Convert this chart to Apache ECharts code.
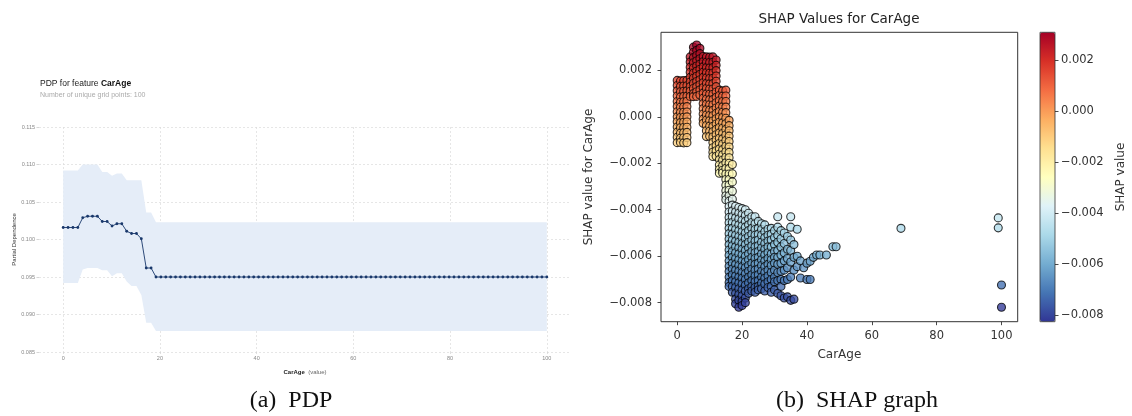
<!DOCTYPE html>
<html>
<head>
<meta charset="utf-8">
<script src="https://cdn.jsdelivr.net/npm/echarts@6/dist/echarts.min.js"></script>
<style>
  html, body { margin: 0; padding: 0; background: #fff; }
  #chart { width: 1132px; height: 416px; }
</style>
</head>
<body>
<div id="chart"></div>
<script>
// ---- Partial dependence of CarAge (100 equally spaced grid points) ----
const pdpGrid = [
  0, 1.01, 2.02, 3.03, 4.04, 5.05, 6.06, 7.07, 8.08, 9.09,
  10.1, 11.11, 12.12, 13.13, 14.14, 15.15, 16.16, 17.17, 18.18, 19.19,
  20.2, 21.21, 22.22, 23.23, 24.24, 25.25, 26.26, 27.27, 28.28, 29.29,
  30.3, 31.31, 32.32, 33.33, 34.34, 35.35, 36.36, 37.37, 38.38, 39.39,
  40.4, 41.41, 42.42, 43.43, 44.44, 45.45, 46.46, 47.47, 48.48, 49.49,
  50.51, 51.52, 52.53, 53.54, 54.55, 55.56, 56.57, 57.58, 58.59, 59.6,
  60.61, 61.62, 62.63, 63.64, 64.65, 65.66, 66.67, 67.68, 68.69, 69.7,
  70.71, 71.72, 72.73, 73.74, 74.75, 75.76, 76.77, 77.78, 78.79, 79.8,
  80.81, 81.82, 82.83, 83.84, 84.85, 85.86, 86.87, 87.88, 88.89, 89.9,
  90.91, 91.92, 92.93, 93.94, 94.95, 95.96, 96.97, 97.98, 98.99, 100
];
const pdpMean = [
  0.1016, 0.1016, 0.1016, 0.1016, 0.1029, 0.1031, 0.1031, 0.1031, 0.1024, 0.1024,
  0.1018, 0.1021, 0.1021, 0.1011, 0.1008, 0.1008, 0.1001, 0.0962, 0.0962, 0.095,
  0.095, 0.095, 0.095, 0.095, 0.095, 0.095, 0.095, 0.095, 0.095, 0.095,
  0.095, 0.095, 0.095, 0.095, 0.095, 0.095, 0.095, 0.095, 0.095, 0.095,
  0.095, 0.095, 0.095, 0.095, 0.095, 0.095, 0.095, 0.095, 0.095, 0.095,
  0.095, 0.095, 0.095, 0.095, 0.095, 0.095, 0.095, 0.095, 0.095, 0.095,
  0.095, 0.095, 0.095, 0.095, 0.095, 0.095, 0.095, 0.095, 0.095, 0.095,
  0.095, 0.095, 0.095, 0.095, 0.095, 0.095, 0.095, 0.095, 0.095, 0.095,
  0.095, 0.095, 0.095, 0.095, 0.095, 0.095, 0.095, 0.095, 0.095, 0.095,
  0.095, 0.095, 0.095, 0.095, 0.095, 0.095, 0.095, 0.095, 0.095, 0.095
];
const pdpUpper = [
  0.1092, 0.1092, 0.1092, 0.1092, 0.11, 0.11, 0.11, 0.11, 0.109, 0.109,
  0.1085, 0.1088, 0.1088, 0.1079, 0.1079, 0.1079, 0.1079, 0.1036, 0.1036, 0.1023,
  0.1023, 0.1023, 0.1023, 0.1023, 0.1023, 0.1023, 0.1023, 0.1023, 0.1023, 0.1023,
  0.1023, 0.1023, 0.1023, 0.1023, 0.1023, 0.1023, 0.1023, 0.1023, 0.1023, 0.1023,
  0.1023, 0.1023, 0.1023, 0.1023, 0.1023, 0.1023, 0.1023, 0.1023, 0.1023, 0.1023,
  0.1023, 0.1023, 0.1023, 0.1023, 0.1023, 0.1023, 0.1023, 0.1023, 0.1023, 0.1023,
  0.1023, 0.1023, 0.1023, 0.1023, 0.1023, 0.1023, 0.1023, 0.1023, 0.1023, 0.1023,
  0.1023, 0.1023, 0.1023, 0.1023, 0.1023, 0.1023, 0.1023, 0.1023, 0.1023, 0.1023,
  0.1023, 0.1023, 0.1023, 0.1023, 0.1023, 0.1023, 0.1023, 0.1023, 0.1023, 0.1023,
  0.1023, 0.1023, 0.1023, 0.1023, 0.1023, 0.1023, 0.1023, 0.1023, 0.1023, 0.1023
];
const pdpLower = [
  0.0942, 0.0942, 0.0942, 0.0942, 0.096, 0.0962, 0.0962, 0.0962, 0.0959, 0.0959,
  0.0951, 0.0955, 0.0955, 0.0944, 0.0938, 0.0938, 0.0926, 0.0889, 0.0889, 0.0878,
  0.0878, 0.0878, 0.0878, 0.0878, 0.0878, 0.0878, 0.0878, 0.0878, 0.0878, 0.0878,
  0.0878, 0.0878, 0.0878, 0.0878, 0.0878, 0.0878, 0.0878, 0.0878, 0.0878, 0.0878,
  0.0878, 0.0878, 0.0878, 0.0878, 0.0878, 0.0878, 0.0878, 0.0878, 0.0878, 0.0878,
  0.0878, 0.0878, 0.0878, 0.0878, 0.0878, 0.0878, 0.0878, 0.0878, 0.0878, 0.0878,
  0.0878, 0.0878, 0.0878, 0.0878, 0.0878, 0.0878, 0.0878, 0.0878, 0.0878, 0.0878,
  0.0878, 0.0878, 0.0878, 0.0878, 0.0878, 0.0878, 0.0878, 0.0878, 0.0878, 0.0878,
  0.0878, 0.0878, 0.0878, 0.0878, 0.0878, 0.0878, 0.0878, 0.0878, 0.0878, 0.0878,
  0.0878, 0.0878, 0.0878, 0.0878, 0.0878, 0.0878, 0.0878, 0.0878, 0.0878, 0.0878
];
const pdpXTicks = [0, 20, 40, 60, 80, 100];

// ---- SHAP values per CarAge, in units of 1e-3 ----
const shapColumns = [
  [0, [1.57, 1.35, 1.12, 0.9, 0.66, 0.45, 0.22, 0.0, -0.21, -0.44, -0.66, -0.88, -1.11]],
  [1, [1.55, 1.31, 1.08, 0.86, 0.63, 0.41, 0.19, -0.03, -0.25, -0.47, -0.7, -0.92, -1.1]],
  [2, [1.56, 1.33, 1.1, 0.88, 0.65, 0.43, 0.2, -0.02, -0.23, -0.46, -0.68, -0.9, -1.12]],
  [3, [1.57, 1.34, 1.12, 0.89, 0.67, 0.44, 0.21, 0.0, -0.22, -0.45, -0.67, -0.89, -1.11]],
  [4, [2.58, 2.36, 2.14, 1.92, 1.7, 1.5, 1.3, 1.1, 0.88]],
  [5, [3.0, 2.78, 2.55, 2.33, 2.1, 1.88, 1.66, 1.44, 1.22, 1.0, 0.87]],
  [6, [3.09, 2.86, 2.64, 2.41, 2.19, 1.97, 1.75, 1.52, 1.3, 1.08, 0.88]],
  [7, [2.95, 2.72, 2.5, 2.27, 2.05, 1.83, 1.6, 1.38, 1.16, 0.94]],
  [8, [2.6, 2.37, 2.15, 1.92, 1.7, 1.47, 1.25, 1.02, 0.8, 0.57, 0.35, 0.12, -0.1, -0.28]],
  [9, [2.58, 2.35, 2.12, 1.9, 1.67, 1.44, 1.22, 0.99, 0.76, 0.54, 0.31, 0.08, -0.14, -0.37, -0.6, -0.85]],
  [10, [2.57, 2.34, 2.1, 1.88, 1.65, 1.42, 1.2, 0.97, 0.74, 0.52, 0.29, 0.06, -0.17, -0.4, -0.62, -0.84]],
  [11, [2.58, 2.35, 2.12, 1.89, 1.66, 1.43, 1.2, 0.97, 0.74, 0.51, 0.28, 0.05, -0.18, -0.41, -0.64, -0.87, -1.1, -1.33, -1.52, -1.71]],
  [12, [2.45, 2.22, 1.99, 1.76, 1.53, 1.3, 1.07, 0.84, 0.61, 0.38, 0.15, -0.08, -0.31, -0.54, -0.77, -1.0, -1.23, -1.46, -1.7]],
  [13, [1.15, 0.92, 0.69, 0.46, 0.23, 0.0, -0.23, -0.46, -0.69, -0.92, -1.15, -1.38, -1.61, -1.84, -2.07, -2.27, -2.43]],
  [14, [1.12, 0.89, 0.66, 0.43, 0.2, -0.03, -0.26, -0.49, -0.72, -0.95, -1.18, -1.41, -1.64, -1.87, -2.1, -2.3, -2.42]],
  [15, [1.15, 0.9, 0.66, 0.42, 0.18, -0.06, -0.3, -0.54, -0.78, -1.02, -1.26, -1.5, -1.74, -1.98, -2.22, -2.46, -2.7, -2.94, -3.18, -3.4, -3.57]],
  [16, [-0.15, -0.38, -0.6, -0.83, -1.06, -1.3, -1.53, -1.76, -2.0, -2.23, -2.46, -2.7, -2.93, -3.16, -3.4, -3.63, -3.86, -4.1, -4.33, -4.56, -4.8, -5.03, -5.26, -5.5, -5.73, -5.96, -6.2, -6.43, -6.66, -6.9, -7.13, -7.3]],
  [17, [-2.05, -2.45, -2.8, -3.2, -3.55, -3.8, -4.05, -4.3, -4.55, -4.8, -5.05, -5.3, -5.55, -5.8, -6.05, -6.3, -6.55, -6.8, -7.05, -7.3, -7.55]],
  [18, [-3.85, -4.1, -4.35, -4.6, -4.85, -5.1, -5.35, -5.6, -5.85, -6.1, -6.35, -6.6, -6.85, -7.1, -7.35, -7.6, -7.85, -8.05]],
  [19, [-3.9, -4.15, -4.4, -4.65, -4.9, -5.15, -5.4, -5.65, -5.9, -6.15, -6.4, -6.65, -6.9, -7.15, -7.4, -7.65, -7.9, -8.2]],
  [20, [-3.95, -4.2, -4.45, -4.7, -4.95, -5.2, -5.45, -5.7, -5.95, -6.2, -6.45, -6.7, -6.95, -7.2, -7.45, -7.7, -7.95, -8.12]],
  [21, [-4.0, -4.25, -4.5, -4.75, -5.0, -5.25, -5.5, -5.75, -6.0, -6.25, -6.5, -6.75, -7.0, -7.25, -7.5, -7.8, -8.0]],
  [22, [-4.15, -4.4, -4.65, -4.9, -5.15, -5.4, -5.65, -5.9, -6.15, -6.4, -6.65, -6.9, -7.15, -7.4, -7.6]],
  [23, [-4.3, -4.55, -4.8, -5.05, -5.3, -5.55, -5.8, -6.05, -6.3, -6.55, -6.8, -7.05, -7.3, -7.5]],
  [24, [-4.3, -4.6, -4.85, -5.1, -5.35, -5.6, -5.85, -6.1, -6.35, -6.6, -6.85, -7.1, -7.35, -7.55]],
  [25, [-4.5, -4.8, -5.05, -5.3, -5.55, -5.8, -6.05, -6.3, -6.55, -6.8, -7.05, -7.3, -7.45]],
  [26, [-4.6, -4.85, -5.1, -5.4, -5.65, -5.9, -6.15, -6.4, -6.65, -6.9, -7.15, -7.4]],
  [27, [-4.65, -4.95, -5.2, -5.45, -5.7, -5.95, -6.2, -6.45, -6.7, -6.95, -7.2, -7.5]],
  [28, [-4.84, -5.1, -5.35, -5.6, -5.85, -6.1, -6.35, -6.6, -6.85, -7.1, -7.35]],
  [29, [-4.8, -5.05, -5.3, -5.6, -5.9, -6.15, -6.4, -6.7, -7.0, -7.3, -7.55]],
  [30, [-4.9, -5.2, -5.5, -5.8, -6.05, -6.3, -6.6, -6.9, -7.1, -7.45]],
  [31, [-4.3, -4.75, -5.1, -5.4, -5.75, -6.05, -6.35, -6.7, -7.05, -7.6]],
  [32, [-4.9, -5.25, -5.6, -5.95, -6.3, -6.65, -7.0, -7.3, -7.7]],
  [33, [-5.0, -5.45, -5.85, -6.2, -6.6, -7.05, -7.8]],
  [34, [-5.15, -5.7, -6.1, -6.5, -7.0, -7.75]],
  [35, [-4.3, -4.75, -5.3, -5.75, -6.25, -6.9, -7.9]],
  [36, [-5.5, -6.05, -6.6, -7.85]],
  [37, [-4.84, -6.0, -6.45]],
  [38, [-6.2, -6.94]],
  [39, [-6.5]],
  [40, [-6.3, -7.0]],
  [41, [-6.22, -7.0]],
  [42, [-6.05]],
  [43, [-5.95]],
  [44, [-5.95]],
  [46, [-5.95]],
  [48, [-5.59]],
  [49, [-5.59]],
  [69, [-4.8]],
  [99, [-4.35, -4.78]],
  [100, [-7.24, -8.2]]
];
const shapXTicks = [0, 20, 40, 60, 80, 100];
const shapYTicks = [-0.008, -0.006, -0.004, -0.002, 0, 0.002];
const shapRange = [-0.00826, 0.00309];
// RdYlBu, reversed (blue for low, red for high)
const rdYlBuR = ['#313695', '#4575b4', '#74add1', '#abd9e9', '#e0f3f8', '#ffffbf',
                 '#fee090', '#fdae61', '#f46d43', '#d73027', '#a50026'];

// ---- assemble series data ----
const pdpLine = pdpGrid.map((x, i) => [x, pdpMean[i]]);
const bandRows = pdpGrid.map((x, i) => [x, pdpLower[i], pdpUpper[i]]);
const shapPoints = [];
shapColumns.forEach(([age, vals]) => vals.forEach(v => shapPoints.push([age, v / 1000])));

const minusFmt = d => v => (v < 0 ? '\u2212' : '') + Math.abs(v).toFixed(d);
const SANS = 'Liberation Sans';
const DJV = 'DejaVu Sans';

// Confidence band: one polygon through upper edge then lower edge (reversed)
function renderBand(params, api) {
  if (params.dataIndex !== 0) return null;
  const top = bandRows.map(r => api.coord([r[0], r[2]]));
  const bottom = bandRows.map(r => api.coord([r[0], r[1]])).reverse();
  return {
    type: 'polygon',
    shape: { points: top.concat(bottom) },
    style: { fill: '#e5edf8' },
    silent: true
  };
}

const chart = echarts.init(document.getElementById('chart'), null, { renderer: 'canvas' });
chart.setOption({
  animation: false,
  backgroundColor: '#fff',
  grid: [
    { left: 39, top: 127, width: 532, height: 225 },
    { left: 661, top: 32.3, width: 356.7, height: 289.4, show: true,
      borderColor: '#333', borderWidth: 1, backgroundColor: 'transparent' },
    { left: 1040, top: 32.3, width: 15, height: 289.4, show: true, z: 10,
      borderColor: '#333', borderWidth: 0.8, backgroundColor: 'transparent' }
  ],
  xAxis: [
    {
      gridIndex: 0, type: 'value', min: -5, max: 105,
      axisLine: { show: false, onZero: false },
      axisTick: { show: true, customValues: pdpXTicks, length: 2, lineStyle: { color: '#ccc', width: 0.6 } },
      axisLabel: { customValues: pdpXTicks, fontSize: 5.5, color: '#888', margin: 3, fontFamily: SANS },
      splitLine: { show: true, lineStyle: { color: '#dcdcdc', width: 0.7, type: [2, 2] } },
      name: '{b|CarAge} {n|(value)}', nameLocation: 'middle', nameGap: 10.5,
      nameTextStyle: {
        fontFamily: SANS,
        rich: {
          b: { fontSize: 6, fontWeight: 'bold', color: '#222', fontFamily: SANS },
          n: { fontSize: 6, color: '#666', fontFamily: SANS }
        }
      }
    },
    {
      gridIndex: 1, type: 'value', min: -5, max: 105,
      axisLine: { show: false, onZero: false },
      axisTick: { show: true, customValues: shapXTicks, length: 3.5, lineStyle: { color: '#333', width: 0.9 } },
      axisLabel: { customValues: shapXTicks, fontSize: 11.5, color: '#333', margin: 8, fontFamily: DJV },
      splitLine: { show: false },
      name: 'CarAge', nameLocation: 'middle', nameGap: 27,
      nameTextStyle: { fontSize: 12, color: '#333', fontFamily: DJV }
    },
    { gridIndex: 2, type: 'value', min: 0, max: 1, show: false }
  ],
  yAxis: [
    {
      gridIndex: 0, type: 'value', min: 0.085, max: 0.115, interval: 0.005,
      axisLine: { show: false, onZero: false },
      axisTick: { show: true, length: 2.5, lineStyle: { color: '#bbb', width: 0.6 } },
      axisLabel: { fontSize: 5.5, color: '#888', margin: 4, fontFamily: SANS, formatter: v => v.toFixed(3) },
      splitLine: { show: true, lineStyle: { color: '#dcdcdc', width: 0.7, type: [2, 2] } },
      name: 'Partial Dependence', nameLocation: 'middle', nameGap: 21,
      nameTextStyle: { fontSize: 6, color: '#333', fontFamily: SANS }
    },
    {
      gridIndex: 1, type: 'value', min: -0.00882, max: 0.00364,
      axisLine: { show: false, onZero: false },
      axisTick: { show: true, customValues: shapYTicks, length: 3.5, lineStyle: { color: '#333', width: 0.9 } },
      axisLabel: { customValues: shapYTicks, fontSize: 11.5, color: '#333', margin: 9, fontFamily: DJV, formatter: minusFmt(3) },
      splitLine: { show: false },
      name: 'SHAP value for CarAge', nameLocation: 'middle', nameGap: 66,
      nameTextStyle: { fontSize: 12, color: '#333', fontFamily: DJV }
    },
    {
      gridIndex: 2, type: 'value', min: shapRange[0], max: shapRange[1], position: 'right',
      axisLine: { show: false, onZero: false },
      axisTick: { show: true, customValues: shapYTicks, length: 3.5, lineStyle: { color: '#333', width: 0.9 } },
      axisLabel: { customValues: shapYTicks, fontSize: 11.5, color: '#333', margin: 6, fontFamily: DJV, formatter: minusFmt(3) },
      splitLine: { show: false },
      name: 'SHAP value', nameLocation: 'middle', nameGap: 60, nameRotate: 90,
      nameTextStyle: { fontSize: 12, color: '#333', fontFamily: DJV }
    }
  ],
  visualMap: [{
    type: 'continuous', seriesIndex: 2, dimension: 1,
    min: shapRange[0], max: shapRange[1],
    inRange: { color: rdYlBuR },
    calculable: false, orient: 'vertical',
    left: 1040, top: 32.3, itemWidth: 15, itemHeight: 289.4, padding: 0,
    hoverLink: false
  }],
  series: [
    { type: 'custom', xAxisIndex: 0, yAxisIndex: 0, data: bandRows,
      renderItem: renderBand, silent: true, z: 1,
      encode: { x: 0, y: [1, 2] } },
    { type: 'line', xAxisIndex: 0, yAxisIndex: 0, data: pdpLine,
      symbol: 'circle', symbolSize: 2.8, showSymbol: true,
      itemStyle: { color: '#19386b' }, lineStyle: { color: '#19386b', width: 0.9 }, z: 3 },
    { type: 'scatter', xAxisIndex: 1, yAxisIndex: 1, data: shapPoints,
      symbol: 'circle', symbolSize: 8,
      itemStyle: { opacity: 0.78, borderColor: '#000', borderWidth: 1.1 } }
  ],
  graphic: [
    { type: 'text', x: 40, y: 83.5,
      style: { text: '{a|PDP for feature }{b|CarAge}', verticalAlign: 'middle',
        rich: {
          a: { fontSize: 8.5, fontFamily: SANS, fill: '#222' },
          b: { fontSize: 8.5, fontFamily: SANS, fontWeight: 'bold', fill: '#111' }
        } } },
    { type: 'text', x: 40, y: 95,
      style: { text: 'Number of unique grid points: 100', fontSize: 7, fontFamily: SANS,
        fill: '#aaa', verticalAlign: 'middle' } },
    { type: 'text', x: 839, y: 19,
      style: { text: 'SHAP Values for CarAge', fontSize: 13.5, fontFamily: DJV,
        fill: '#222', align: 'center', verticalAlign: 'middle' } },
    { type: 'text', x: 291, y: 401,
      style: { text: '(a)\u2002PDP', fontSize: 24, fontFamily: 'Liberation Serif',
        fill: '#111', align: 'center', verticalAlign: 'middle' } },
    { type: 'text', x: 857, y: 401,
      style: { text: '(b)\u2002SHAP graph', fontSize: 24, fontFamily: 'Liberation Serif',
        fill: '#111', align: 'center', verticalAlign: 'middle' } }
  ]
});
</script>
</body>
</html>
